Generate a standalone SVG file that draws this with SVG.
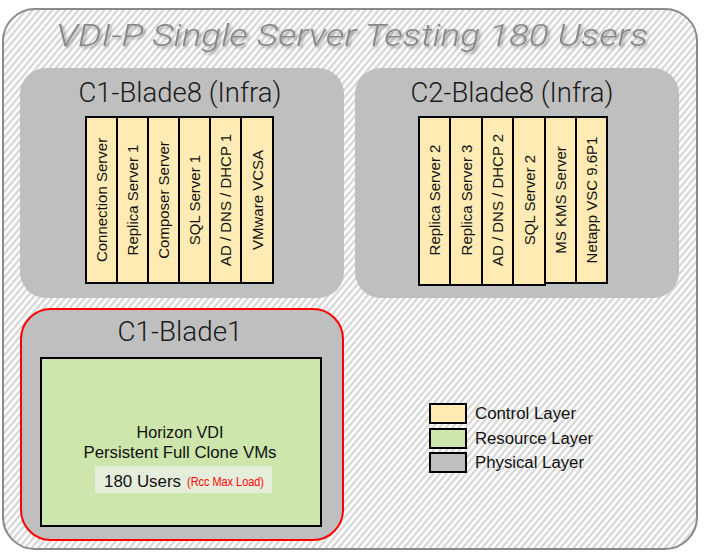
<svg xmlns="http://www.w3.org/2000/svg" width="704" height="552" viewBox="0 0 704 552">
<defs>
<pattern id="hatch" width="5" height="5" patternUnits="userSpaceOnUse" patternTransform="rotate(40)">
<rect width="5" height="5" fill="#ffffff"/>
<line x1="1.5" y1="0" x2="1.5" y2="5" stroke="#cfcfcf" stroke-width="2"/>
</pattern>
<filter id="shadow" x="-10%" y="-30%" width="120%" height="160%">
<feGaussianBlur in="SourceAlpha" stdDeviation="1.5"/>
<feOffset dx="2" dy="2" result="b"/>
<feComponentTransfer><feFuncA type="linear" slope="0.35"/></feComponentTransfer>
<feMerge><feMergeNode/><feMergeNode in="SourceGraphic"/></feMerge>
</filter>
</defs>
<style>
.blade{fill:#bfbfbf;}
.vm{fill:#ffebb3;stroke:#000;stroke-width:2;}
.vt{font-family:"Liberation Sans",Arial,sans-serif;font-size:15px;fill:#111;text-anchor:middle;dominant-baseline:central;}
.bt{font-family:Roboto,"Liberation Sans",sans-serif;font-weight:300;font-size:27px;fill:#1a1a1a;text-anchor:middle;}
.lt{font-family:"Liberation Sans",Arial,sans-serif;font-size:16px;fill:#111;}
.lg{stroke:#000;stroke-width:2;}
</style>
<rect x="3" y="9" width="694" height="540" rx="32" fill="url(#hatch)" stroke="#8a8a8a" stroke-width="2"/>
<text x="352" y="46" font-family="Roboto,'Liberation Sans',Arial,sans-serif" font-weight="300" font-style="italic" font-size="32" fill="#888888" text-anchor="middle" textLength="592" lengthAdjust="spacingAndGlyphs" filter="url(#shadow)">VDI-P Single Server Testing 180 Users</text>

<g id="c1-blade8">
<rect class="blade" x="20" y="68" width="324" height="230" rx="26"/>
<text class="bt" x="180" y="102" textLength="203" lengthAdjust="spacingAndGlyphs">C1-Blade8 (Infra)</text>
<rect class="vm" x="86" y="117" width="31" height="166"/>
<rect class="vm" x="117" y="117" width="31" height="166"/>
<rect class="vm" x="148" y="117" width="31" height="166"/>
<rect class="vm" x="179" y="117" width="31" height="166"/>
<rect class="vm" x="210" y="117" width="31" height="166"/>
<rect class="vm" x="241" y="117" width="32" height="166"/>
<text class="vt" transform="translate(101.5,200) rotate(-90)">Connection Server</text>
<text class="vt" transform="translate(132.5,200) rotate(-90)">Replica Server 1</text>
<text class="vt" transform="translate(163.5,200) rotate(-90)">Composer Server</text>
<text class="vt" transform="translate(194.5,200) rotate(-90)">SQL Server 1</text>
<text class="vt" transform="translate(225.5,200) rotate(-90)">AD / DNS / DHCP 1</text>
<text class="vt" transform="translate(257,200) rotate(-90)">VMware VCSA</text>
</g>

<g id="c2-blade8">
<rect class="blade" x="355" y="68" width="324" height="230" rx="26"/>
<text class="bt" x="512" y="102" textLength="203" lengthAdjust="spacingAndGlyphs">C2-Blade8 (Infra)</text>
<rect class="vm" x="419" y="117" width="31" height="168"/>
<rect class="vm" x="450" y="117" width="32" height="168"/>
<rect class="vm" x="482" y="117" width="31" height="168"/>
<rect class="vm" x="513" y="117" width="32" height="168"/>
<rect class="vm" x="545" y="117" width="31" height="166"/>
<rect class="vm" x="576" y="117" width="31" height="166"/>
<text class="vt" transform="translate(434.5,200) rotate(-90)">Replica Server 2</text>
<text class="vt" transform="translate(466,200) rotate(-90)">Replica Server 3</text>
<text class="vt" transform="translate(497.5,200) rotate(-90)">AD / DNS / DHCP 2</text>
<text class="vt" transform="translate(529,200) rotate(-90)">SQL Server 2</text>
<text class="vt" transform="translate(560.5,200) rotate(-90)">MS KMS Server</text>
<text class="vt" transform="translate(591.5,200) rotate(-90)">Netapp VSC 9.6P1</text>
</g>

<g id="c1-blade1">
<rect class="blade" x="21" y="309" width="322" height="231" rx="30" stroke="#ff0000" stroke-width="2"/>
<text class="bt" x="180" y="341" textLength="125" lengthAdjust="spacingAndGlyphs">C1-Blade1</text>
<rect x="41" y="358" width="280" height="168" fill="#cce6ab" stroke="#000" stroke-width="2"/>
<text class="lt" x="180" y="438" text-anchor="middle" textLength="87" lengthAdjust="spacingAndGlyphs">Horizon VDI</text>
<text class="lt" x="180" y="458" text-anchor="middle" textLength="193" lengthAdjust="spacingAndGlyphs">Persistent Full Clone VMs</text>
<rect x="95" y="466" width="177" height="27" fill="#e5eedb"/>
<text class="lt" x="104" y="487" textLength="77" lengthAdjust="spacingAndGlyphs">180 Users</text>
<text x="187" y="486" font-family="'Liberation Sans',Arial,sans-serif" font-size="12" fill="#ff0000" textLength="77" lengthAdjust="spacingAndGlyphs">(Rcc Max Load)</text>
</g>

<g id="legend">
<rect class="lg" x="430" y="404" width="36" height="19" fill="#ffebb3"/>
<rect class="lg" x="430" y="429" width="36" height="19" fill="#cce6ab"/>
<rect class="lg" x="430" y="453" width="36" height="19" fill="#bfbfbf"/>
<text class="lt" x="475" y="419" textLength="101" lengthAdjust="spacingAndGlyphs">Control Layer</text>
<text class="lt" x="475" y="444" textLength="118" lengthAdjust="spacingAndGlyphs">Resource Layer</text>
<text class="lt" x="475" y="468" textLength="109" lengthAdjust="spacingAndGlyphs">Physical Layer</text>
</g>
<g id="connectors"></g>
</svg>
